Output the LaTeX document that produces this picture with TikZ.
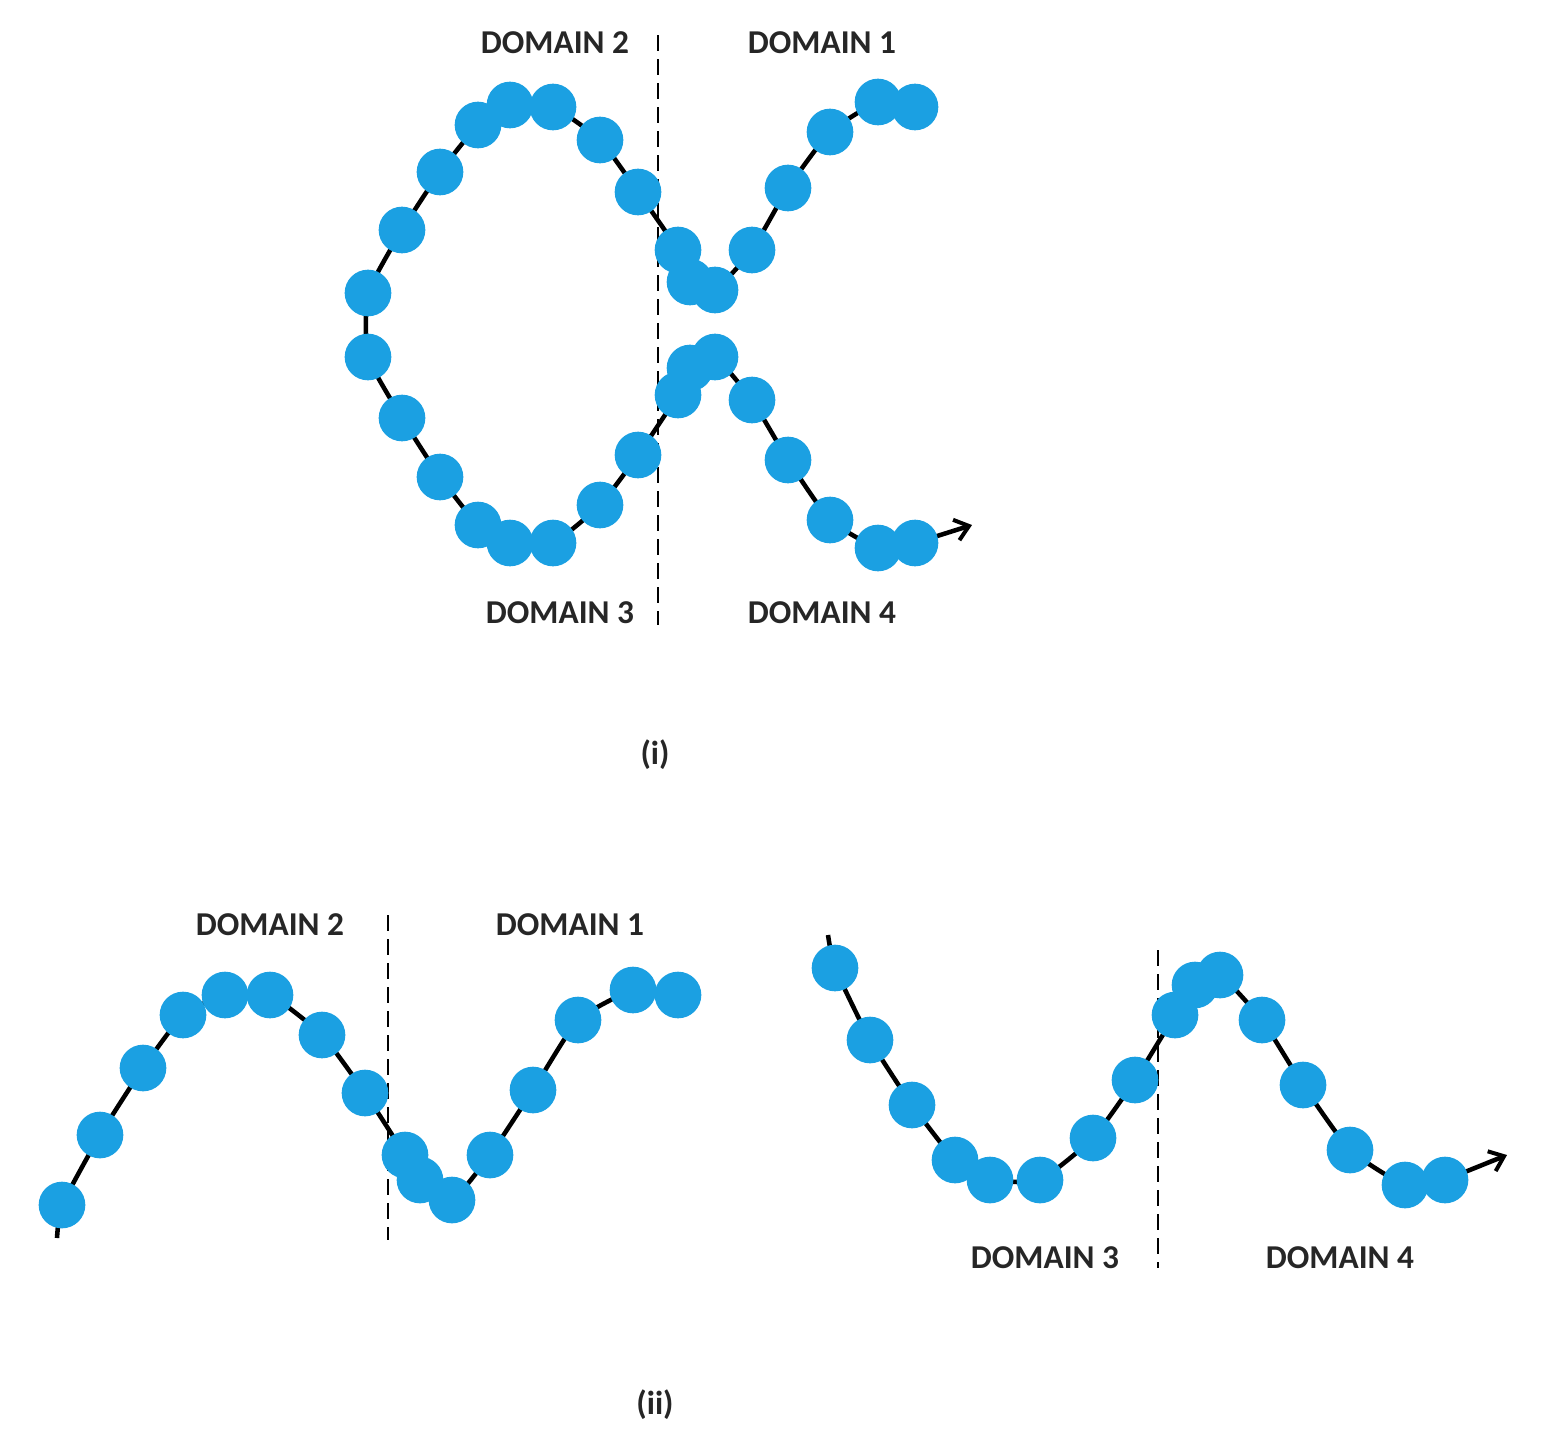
\documentclass[tikz,border=0pt]{standalone}
\usepackage{fontspec}
\setmainfont{Carlito}
\usetikzlibrary{arrows.meta}
\definecolor{bead}{RGB}{27,160,226}
\begin{document}
\begin{tikzpicture}[x=0.75pt,y=-0.75pt,
  chain/.style={line width=3.4pt,black},
  beadc/.style={circle,fill=bead,minimum size=35pt,inner sep=0pt},
  divider/.style={line width=2.2pt,dash pattern=on 12pt off 6pt},
  lab/.style={font=\bfseries\fontsize{25}{28}\selectfont,text=black!85}]
\useasboundingbox (0,0) rectangle (1541,1453);
% (i)
\draw[divider] (658,35) -- (658,625);
\def\chainA{(915,107) (878,102) (830,132) (788,188) (752,250) (715,290) (690,282) (678,250) (638,192) (600,140) (553,107) (510,105) (478,125) (440,172) (402,230) (368,293) (368,357) (402,418) (440,477) (478,525) (510,543) (553,543) (600,505) (638,455) (678,395) (690,368) (715,357) (752,400) (788,460) (830,520) (878,548) (915,543)}
\draw[chain] plot[smooth,tension=0.3] coordinates {\chainA};
\coordinate (ea) at (915,543); \coordinate (ta) at (972,525);
\draw[chain,-{Straight Barb[length=10pt,width=16pt,line width=3pt]}] (ea) -- (ta);
\foreach \p [count=\i] in {(915,107),(878,102),(830,132),(788,188),(752,250),(715,290),(690,282),(678,250),(638,192),(600,140),(553,107),(510,105),(478,125),(440,172),(402,230),(368,293),(368,357),(402,418),(440,477),(478,525),(510,543),(553,543),(600,505),(638,455),(678,395),(690,368),(715,357),(752,400),(788,460),(830,520),(878,548),(915,543)}
  \node[beadc] (a\i) at \p {};
\node[lab] (l2) at (555,43) {DOMAIN 2};
\node[lab] (l1) at (822,43) {DOMAIN 1};
\node[lab] (l3) at (560,613) {DOMAIN 3};
\node[lab] (l4) at (822,613) {DOMAIN 4};
\node[lab] (ci) at (655,755) {(i)};
% (ii) left
\draw[divider] (388,915) -- (388,1240);
\draw[chain] plot[smooth,tension=0.3] coordinates {(57,1238) (62,1205) (100,1135) (143,1068) (183,1015) (225,995) (270,995) (322,1035) (365,1093) (405,1155) (420,1180) (452,1200) (490,1155) (533,1090) (578,1020) (633,990) (678,995)};
\foreach \p [count=\i] in {(62,1205),(100,1135),(143,1068),(183,1015),(225,995),(270,995),(322,1035),(365,1093),(405,1155),(420,1180),(452,1200),(490,1155),(533,1090),(578,1020),(633,990),(678,995)}
  \node[beadc] (b\i) at \p {};
\node[lab] (m2) at (270,925) {DOMAIN 2};
\node[lab] (m1) at (570,925) {DOMAIN 1};
% (ii) right
\draw[divider] (1158,950) -- (1158,1268);
\draw[chain] plot[smooth,tension=0.3] coordinates {(828,935) (835,968) (870,1040) (912,1105) (955,1160) (990,1180) (1040,1180) (1093,1138) (1135,1080) (1175,1015) (1195,985) (1220,975) (1262,1020) (1303,1085) (1350,1150) (1405,1185) (1445,1180)};
\coordinate (ec) at (1445,1180); \coordinate (tc) at (1507,1155);
\draw[chain,-{Straight Barb[length=10pt,width=16pt,line width=3pt]}] (ec) -- (tc);
\foreach \p [count=\i] in {(835,968),(870,1040),(912,1105),(955,1160),(990,1180),(1040,1180),(1093,1138),(1135,1080),(1175,1015),(1195,985),(1220,975),(1262,1020),(1303,1085),(1350,1150),(1405,1185),(1445,1180)}
  \node[beadc] (c\i) at \p {};
\node[lab] (n3) at (1045,1258) {DOMAIN 3};
\node[lab] (n4) at (1340,1258) {DOMAIN 4};
\node[lab] (cii) at (655,1405) {(ii)};
\end{tikzpicture}
\end{document}
